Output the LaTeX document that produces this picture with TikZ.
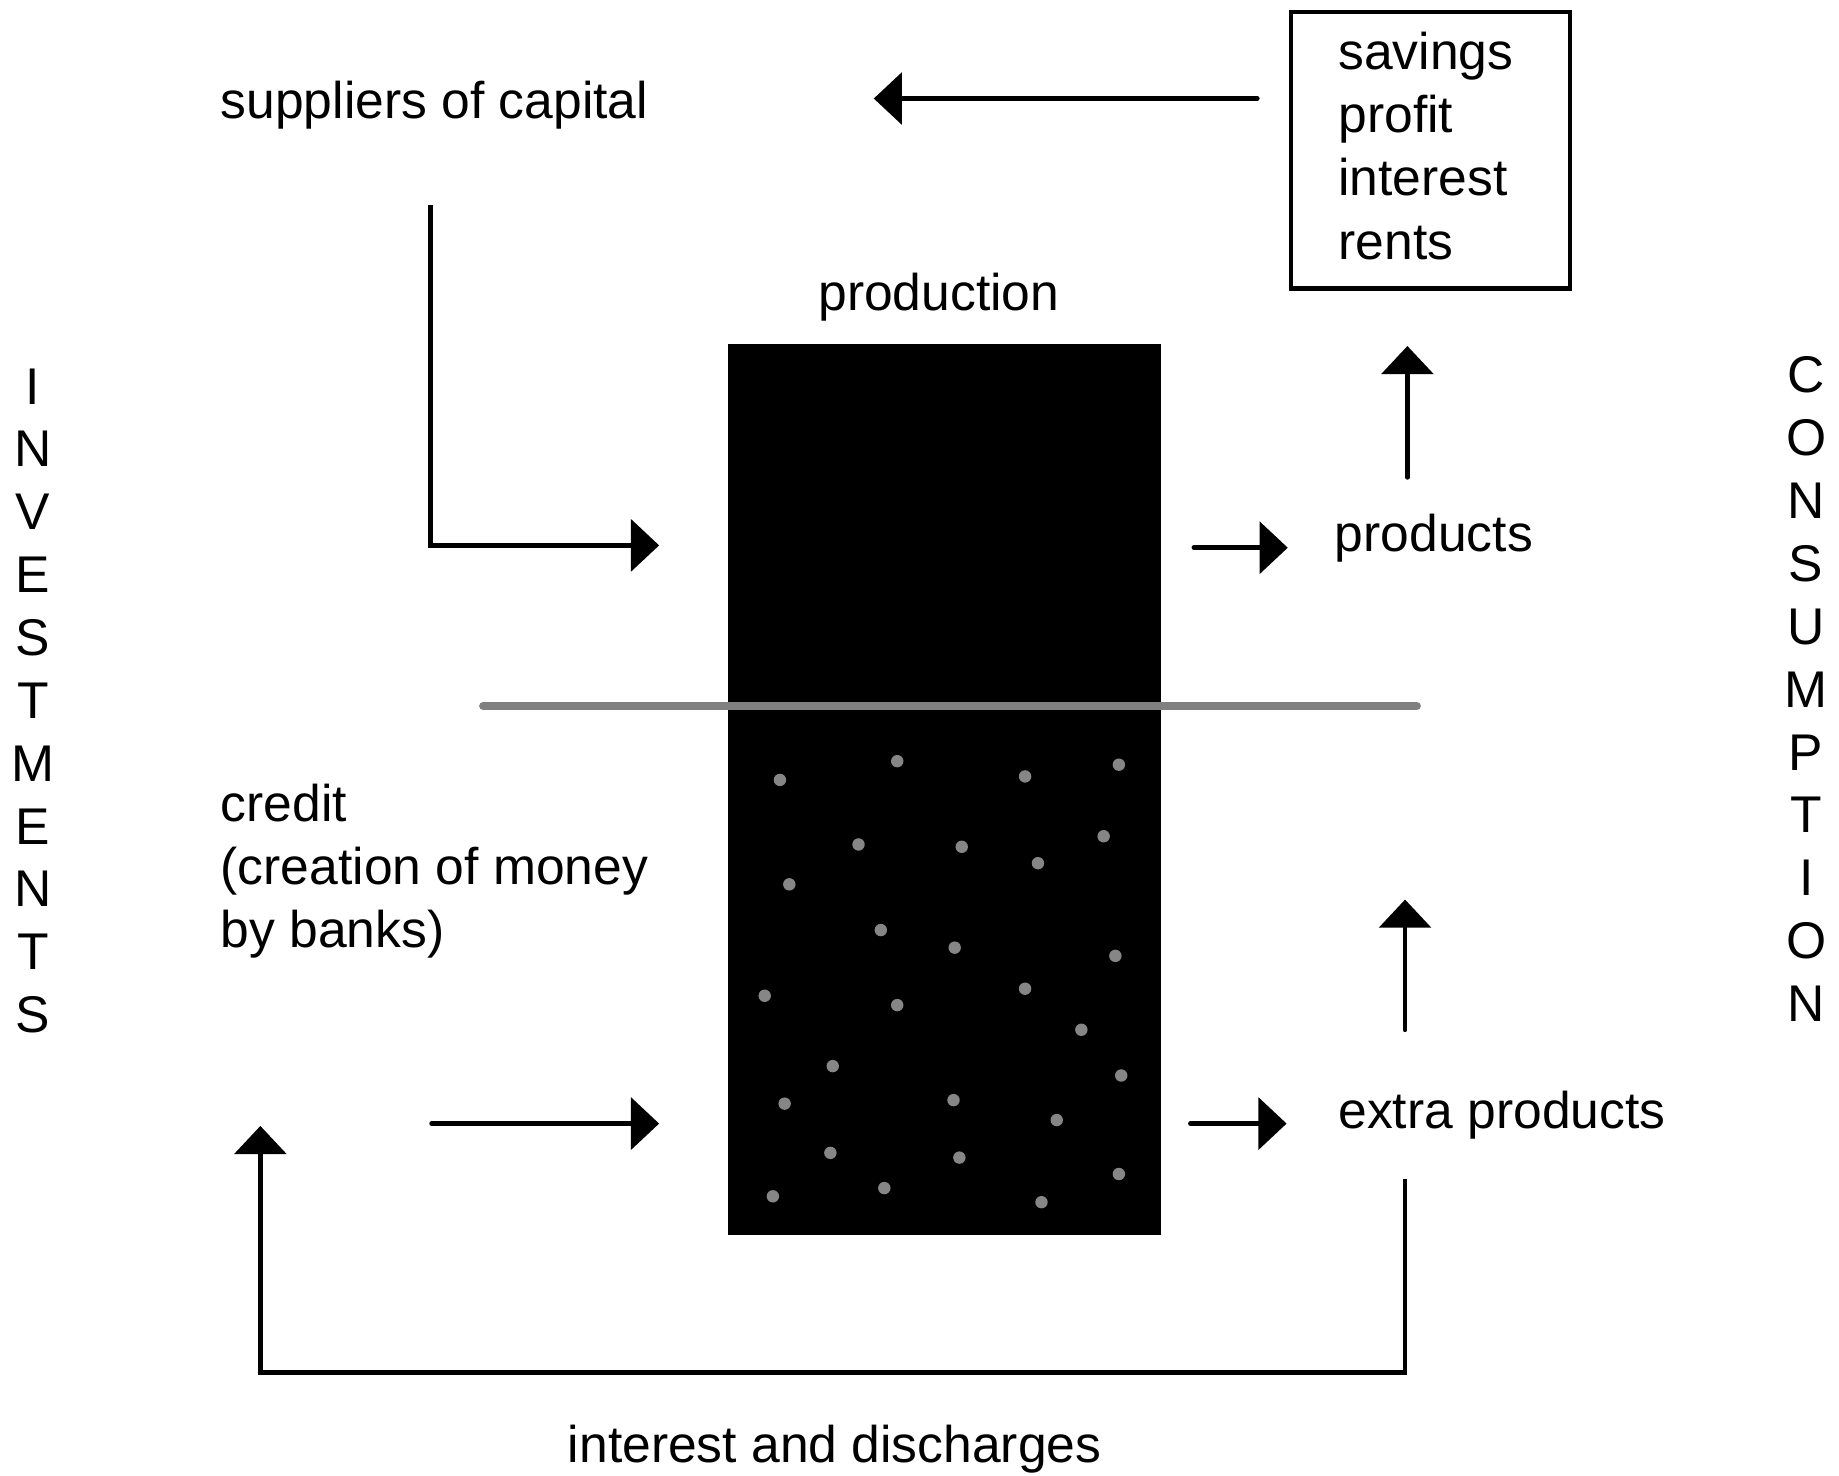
\documentclass[tikz,border=0pt]{standalone}
\usepackage{fontspec}
\setmainfont{Liberation Sans}
\usetikzlibrary{arrows.meta}
\begin{document}
\begin{tikzpicture}[x=1pt,y=-1pt,
  lbl/.style={inner sep=0pt, font=\fontsize{44}{54}\selectfont},
  vlbl/.style={inner sep=0pt, align=center, font=\fontsize{44}{53.6}\selectfont},
  arr/.style={line width=4pt, -{Triangle[length=24pt,width=44pt]}},
  dot/.style={fill=gray!95!white, draw=none},
  divider/.style={line width=7pt, draw=gray, line cap=round}]
\useasboundingbox (0,0) rectangle (1568,1258);
\fill[white] (0,0) rectangle (1568,1258);

% texts
\node[lbl, anchor=base west] (sup) at (188,101) {suppliers of capital};
\node[draw, line width=3.5pt, minimum width=238pt, minimum height=236pt, inner sep=0pt] (box) at (1220,128) {};
\node[lbl, align=left, anchor=north west] (boxtext) at (1141,27) {savings\\profit\\interest\\rents};
\node[lbl, anchor=base] (prodlbl) at (800.5,265) {production};
\node[fill=black, minimum width=369pt, minimum height=760pt, inner sep=0pt] (rect) at (805.5,673) {};
\node[lbl, anchor=base west] (products) at (1138,470) {products};
\node[lbl, anchor=base west] (extra) at (1141,962) {extra products};
\node[lbl, align=left, anchor=north west] (credit) at (188,668) {credit\\(creation of money\\by banks)};
\node[lbl, anchor=base west] (interest) at (484,1247) {interest and discharges};
\node[vlbl, anchor=north] (inv) at (28,314) {I\\N\\V\\E\\S\\T\\M\\E\\N\\T\\S};
\node[vlbl, anchor=north] (cons) at (1540,304) {C\\O\\N\\S\\U\\M\\P\\T\\I\\O\\N};

% dots in lower part of production block
\foreach \p in {(665,665),(765,649),(874,662),(954,652),(732,720),(820,722),(941,713),(885,736),(673,754),(751,793),(814,808),(951,815),(652,849),(765,857),(874,843),(922,878),(710,909),(956,917),(669,941),(813,938),(901,955),(708,983),(818,987),(954,1001),(659,1020),(754,1013),(888,1025)}
  \fill[dot] \p circle (5.3pt);

% divider
\coordinate (divL) at (412,602);
\coordinate (divR) at (1208,602);
\draw[divider] (divL) -- (divR);

% connector end points
\coordinate (a1s) at (1072,84);   \coordinate (a1e) at (745,84);
\coordinate (a2s) at (367,175);   \coordinate (a2e) at (562,465);
\coordinate (a3s) at (1018,467);  \coordinate (a3e) at (1098,467);
\coordinate (a4s) at (1200,407);  \coordinate (a4e) at (1200,295);
\coordinate (a5s) at (368,958);   \coordinate (a5e) at (562,958);
\coordinate (a6s) at (1015,958);  \coordinate (a6e) at (1097,958);
\coordinate (a7s) at (1198,878);  \coordinate (a7e) at (1198,767);
\coordinate (a8s) at (1198,1005); \coordinate (a8c) at (1198,1170);
\coordinate (a8d) at (222,1170);  \coordinate (a8e) at (222,960);

\draw[arr, line cap=round] (a1s) -- (a1e);
\draw[arr] (a2s) |- (a2e);
\draw[arr, line cap=round] (a3s) -- (a3e);
\draw[arr, line cap=round] (a4s) -- (a4e);
\draw[arr, line cap=round] (a5s) -- (a5e);
\draw[arr, line cap=round] (a6s) -- (a6e);
\draw[arr, line cap=round] (a7s) -- (a7e);
\draw[arr] (a8s) -- (a8c) -- (a8d) -- (a8e);
\end{tikzpicture}
\end{document}
